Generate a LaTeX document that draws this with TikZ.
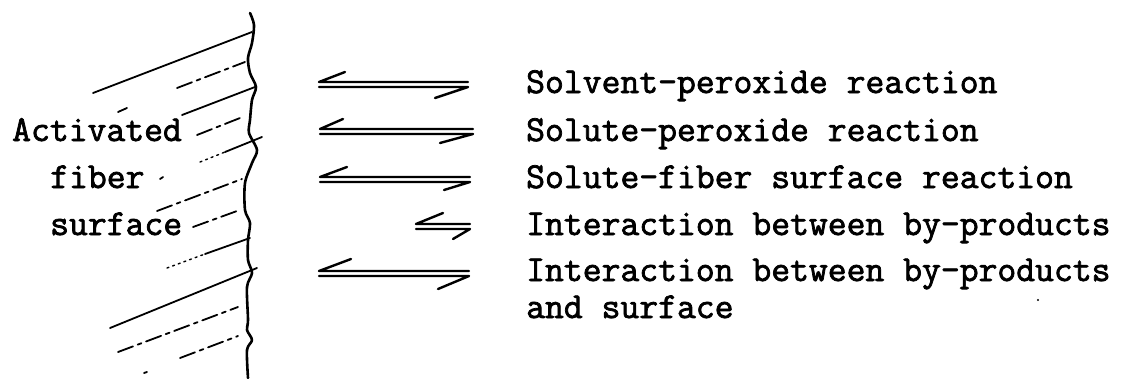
\documentclass[tikz,border=0pt]{standalone}
\usepackage{fontspec}
\newfontface\tw{Latin Modern Mono}[FakeBold=2]
\tikzset{
  lbl/.style={anchor=base west, inner sep=0pt, font=\tw\fontsize{36.6}{32}\selectfont},
  arr/.style={line width=2.4pt, line cap=round, line join=round},
  wall/.style={line width=2.6pt, line cap=round, line join=round},
  hatch/.style={line width=1.8pt, line cap=round},
  hdash/.style={hatch, dash pattern=on 16pt off 5pt on 4pt off 5pt},
  hdot/.style={line width=1.4pt, line cap=round, dash pattern=on 2pt off 4pt}
}
\begin{document}
\begin{tikzpicture}[x=1pt,y=-1pt]
\useasboundingbox (0,0) rectangle (1129,378);
% wall
\draw[wall] plot[smooth, tension=0.5] coordinates {(250,13) (254,25) (252,43) (248,58) (250,73) (256,87) (252,100) (250,120) (249,133) (257,150) (252,163) (245,183) (245,210) (250,223) (248,240) (248,260) (252,273) (247,287) (248,320) (247,330) (252,340) (247,350) (248,378)};
% hatching
\draw[hatch] (93,93) -- (252,32);
\draw[hdash] (177,88) -- (245,62);
\draw[hatch] (118,112) -- (127,108);
\draw[hatch] (182,115) -- (255,87);
\draw[hdash] (197,135) -- (240,118);
\draw[hdot] (200,162) -- (225,152);
\draw[hatch] (225,152) -- (262,137);
\draw[hatch] (160,179) -- (163,177);
\draw[hdash] (157,211) -- (242,179);
\draw[hdash] (193,227) -- (237,211);
\draw[hdot] (167,268) -- (205,254);
\draw[hatch] (205,254) -- (250,238);
\draw[hatch] (110,328) -- (257,268);
\draw[hdash] (118,352) -- (238,307);
\draw[hdash] (180,358) -- (238,336);
\draw[hatch] (144,373) -- (147,372);
% arrows
\draw[arr] (345,72) -- (319,82) -- (468,82);
\draw[arr] (319,87) -- (468,87) -- (435,98);
\draw[arr] (343,119) -- (320,129) -- (473,129);
\draw[arr] (320,134) -- (473,134) -- (440,143);
\draw[arr] (347,167) -- (320,177) -- (470,177);
\draw[arr] (320,182) -- (470,182) -- (444,190);
\draw[arr] (443,213) -- (416,224) -- (470,224);
\draw[arr] (416,229) -- (470,229) -- (453,239);
\draw[arr] (351,259) -- (319,271) -- (469,271);
\draw[arr] (319,276) -- (469,276) -- (438,289);
% left labels
\node[lbl] (act) at (12,141) {Activated};
\node[lbl] (fib) at (50,188) {fiber};
\node[lbl] (sur) at (50,235) {surface};
% right labels
\node[lbl] (r1) at (526,93) {Solvent-peroxide reaction};
\node[lbl] (r2) at (526,141) {Solute-peroxide reaction};
\node[lbl] (r3) at (526,188) {Solute-fiber surface reaction};
\node[lbl] (r4) at (526,235) {Interaction between by-products};
\node[lbl] (r5) at (526,281) {Interaction between by-products};
\node[lbl] (r6) at (526,318) {and surface};
\fill (1038,300) circle (1.2pt);
\end{tikzpicture}
\end{document}
